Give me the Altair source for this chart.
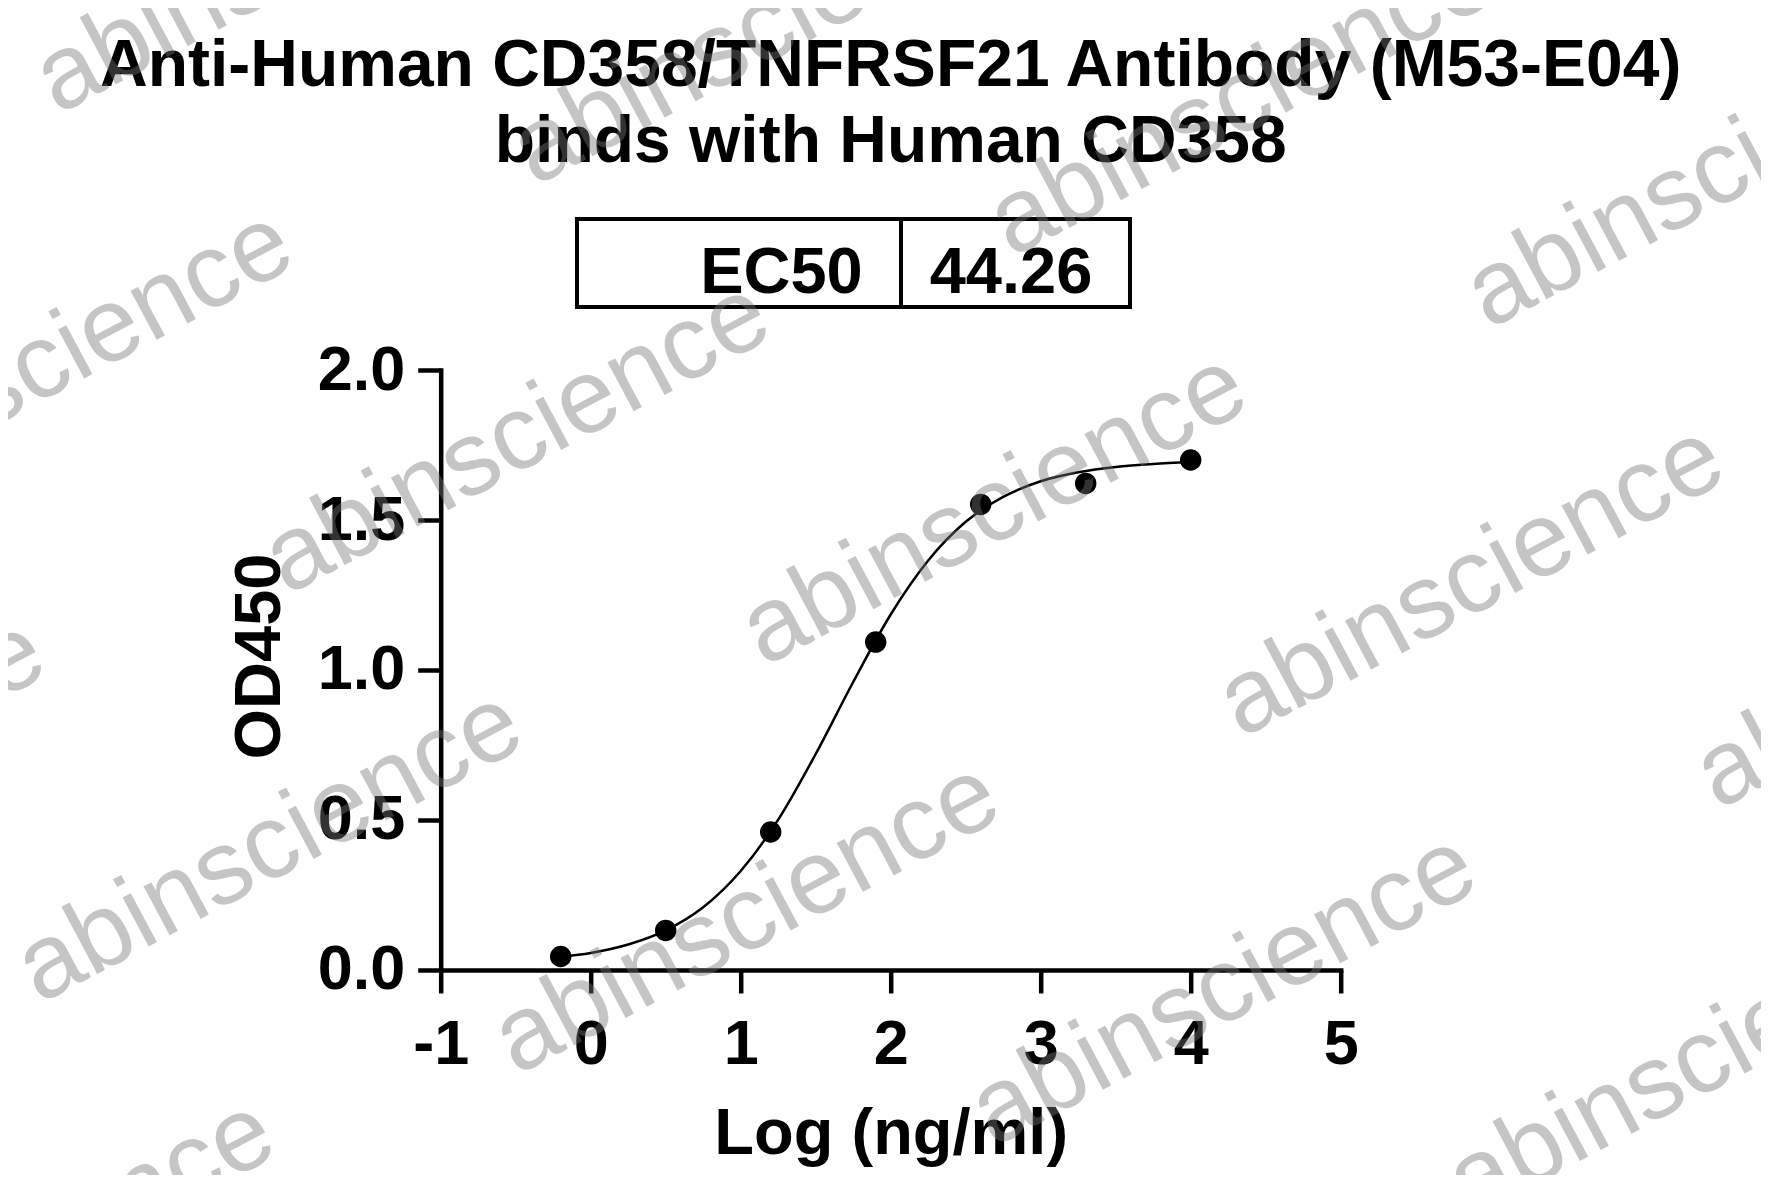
import altair as alt
import pandas as pd

# ---- data ----
log_conc = [-0.2, 0.5, 1.2, 1.9, 2.6, 3.3, 4.0]
od450 = [0.045, 0.132, 0.46, 1.093, 1.552, 1.622, 1.70]

curve_x = [-0.2, 0.0, 0.25, 0.5, 0.75, 1.0, 1.25, 1.5, 1.75, 2.0, 2.25, 2.5,
           2.75, 3.0, 3.25, 3.5, 3.75, 4.0]
curve_y = [0.044, 0.057, 0.085, 0.132, 0.209, 0.330, 0.501, 0.720, 0.960,
           1.185, 1.365, 1.494, 1.577, 1.629, 1.659, 1.677, 1.687, 1.693]

x_ticks = [-1, 0, 1, 2, 3, 4, 5]
y_ticks = [0.0, 0.5, 1.0, 1.5, 2.0]

title_lines = ["Anti-Human CD358/TNFRSF21 Antibody (M53-E04)", "binds with Human CD358"]
ec50_label = ["EC50"]
ec50_value = ["44.26"]
watermark = "abinscience"

FONT = "Liberation Sans"
W, H = 900, 600

pts = pd.DataFrame({"x": log_conc, "y": od450})
crv = pd.DataFrame({"x": curve_x, "y": curve_y})

xscale = alt.Scale(domain=[-1, 5], nice=False, zero=False)
yscale = alt.Scale(domain=[0, 2], nice=False, zero=False)

xaxis = alt.Axis(values=x_ticks, labelExpr="'' + datum.value", grid=False,
                 domainColor="black", domainWidth=4.5, domainCap="square",
                 tickColor="black", tickWidth=4.5, tickSize=23,
                 labelFont=FONT, labelFontWeight="bold", labelFontSize=63,
                 labelColor="black", labelBaseline="alphabetic", labelPadding=71,
                 labelFlush=False, labelOverlap=False,
                 title="Log (ng/ml)", titleFont=FONT, titleFontWeight="bold",
                 titleFontSize=65, titleColor="black", titleBaseline="alphabetic",
                 titleAlign="center", titleX=W / 2, titleY=183.5)
yaxis = alt.Axis(values=y_ticks, labelExpr="format(datum.value, '.1f')", grid=False,
                 domainColor="black", domainWidth=4.5, domainCap="square",
                 tickColor="black", tickWidth=4.5, tickSize=23,
                 labelFont=FONT, labelFontWeight="bold", labelFontSize=63,
                 labelColor="black", labelAlign="right", labelBaseline="middle",
                 labelPadding=13, labelFlush=False, labelOverlap=False,
                 title="OD450", titleFont=FONT, titleFontWeight="bold",
                 titleFontSize=65, titleColor="black", titleAngle=270,
                 titleBaseline="alphabetic", titleAlign="center",
                 titleX=-160.7, titleY=286)

curve = alt.Chart(crv).mark_line(color="black", strokeWidth=2.5,
                                 interpolate="monotone").encode(
    x=alt.X("x:Q", scale=xscale, axis=xaxis),
    y=alt.Y("y:Q", scale=yscale, axis=yaxis),
)
points = alt.Chart(pts).mark_point(filled=True, color="black", opacity=1,
                                   size=460).encode(
    x=alt.X("x:Q", scale=xscale),
    y=alt.Y("y:Q", scale=yscale),
)

one = pd.DataFrame({"k": [0]})

title1 = alt.Chart(pd.DataFrame({"t": [title_lines[0]]})).mark_text(
    font=FONT, fontWeight="bold", fontSize=66, color="black", align="center",
    baseline="alphabetic").encode(x=alt.value(W / 2), y=alt.value(-284), text="t:N")
title2 = alt.Chart(pd.DataFrame({"t": [title_lines[1]]})).mark_text(
    font=FONT, fontWeight="bold", fontSize=66, color="black", align="center",
    baseline="alphabetic").encode(x=alt.value(W / 2), y=alt.value(-208), text="t:N")

box = alt.Chart(one).mark_rect(fill="white", stroke="black", strokeWidth=4).encode(
    x=alt.value(136.3), x2=alt.value(689.3), y=alt.value(-151), y2=alt.value(-63))
divider = alt.Chart(one).mark_rule(color="black", strokeWidth=4).encode(
    x=alt.value(460.3), y=alt.value(-151), y2=alt.value(-63))
ec_lab = alt.Chart(pd.DataFrame({"t": ec50_label})).mark_text(
    font=FONT, fontWeight="bold", fontSize=65, color="black", align="right",
    baseline="alphabetic").encode(x=alt.value(422), y=alt.value(-77), text="t:N")
ec_val = alt.Chart(pd.DataFrame({"t": ec50_value})).mark_text(
    font=FONT, fontWeight="bold", fontSize=65, color="black", align="left",
    baseline="alphabetic").encode(x=alt.value(489), y=alt.value(-77), text="t:N")

wm_centers = [(-400.9, -4.3), (76.1, 67.3), (553.1, 138.8), (1030.2, 210.4), (1507.2, 282.0),
              (-153.3, -413.2), (323.7, -341.6), (800.7, -270.1), (1277.8, -198.5),
              (-648.6, 404.6), (-171.5, 476.2), (305.5, 547.7), (782.6, 619.3), (1259.6, 690.8),
              (-419.1, 885.1), (57.9, 956.6)]
wm_layers = []
for cx, cy in wm_centers:
    wm_layers.append(
        alt.Chart(pd.DataFrame({"t": [watermark]})).mark_text(
            font=FONT, fontSize=105, color="#777777", opacity=0.42, angle=332,
            align="center", baseline="middle").encode(
            x=alt.value(cx), y=alt.value(cy), text="t:N"))

chart = alt.layer(curve, points, title1, title2, box, divider, ec_lab, ec_val,
                  *wm_layers).properties(
    width=W, height=H,
    autosize=alt.AutoSizeParams(type="none"),
    padding={"left": 432.7, "top": 362, "right": 420, "bottom": 205},
    background="white",
).configure_view(stroke=None)

chart.save("out.html", embed_options={"renderer": "svg", "actions": False})
